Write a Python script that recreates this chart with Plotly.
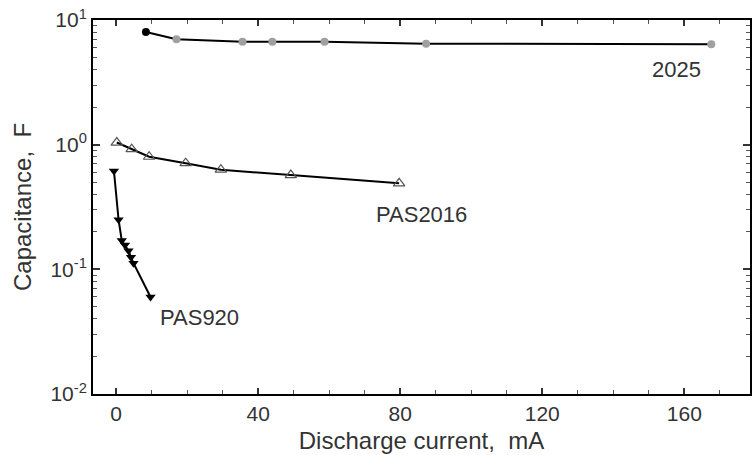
import plotly.graph_objects as go

# Data
x_2025 = [8.4, 17, 35.6, 44, 58.7, 87.3, 167.6]
y_2025 = [8.0, 7.0, 6.7, 6.7, 6.7, 6.45, 6.4]

x_2016 = [0.2, 4.4, 9.3, 19.6, 29.5, 49.2, 79.7]
y_2016 = [1.04, 0.92, 0.80, 0.71, 0.63, 0.57, 0.49]

x_920 = [-0.6, 0.7, 1.6, 2.5, 3.5, 4.2, 4.9, 9.7]
y_920 = [0.615, 0.25, 0.17, 0.157, 0.141, 0.125, 0.112, 0.060]

labels = ["2025", "PAS2016", "PAS920"]
label_x = [165.3, 72.7, 11.8]
label_logy = [0.6, -0.564, -1.39]
label_anchor = ["right", "left", "left"]

y_tickvals = [0.01, 0.1, 1, 10]
y_ticktext = ["10<sup>-2</sup>", "10<sup>-1</sup>", "10<sup>0</sup>", "10<sup>1</sup>"]
x_tickvals = [0, 40, 80, 120, 160]

minor_y = [m * 10 ** e for e in (-2, -1, 0) for m in range(2, 10)]

font = "Liberation Sans, Arial, sans-serif"
txt = "#333"

fig = go.Figure()
fig.add_trace(go.Scatter(
    x=x_2025, y=y_2025, mode="lines+markers",
    line=dict(color="black", width=2),
    marker=dict(symbol="circle", size=8,
                color=["black"] + ["#a0a0a0"] * (len(x_2025) - 1),
                line=dict(width=0)),
    showlegend=False))
fig.add_trace(go.Scatter(
    x=x_2016, y=y_2016, mode="lines+markers",
    line=dict(color="black", width=2),
    marker=dict(symbol="triangle-up-open", size=10, color="#555",
                line=dict(width=1.2)),
    showlegend=False))
fig.add_trace(go.Scatter(
    x=x_920, y=y_920, mode="lines+markers",
    line=dict(color="black", width=2),
    marker=dict(symbol="triangle-down", size=9, color="black"),
    showlegend=False))

for t, lx, ly, anc in zip(labels, label_x, label_logy, label_anchor):
    fig.add_annotation(x=lx, y=ly, yref="y", xref="x", text=t, showarrow=False,
                       xanchor=anc, yanchor="middle",
                       font=dict(family=font, size=22, color=txt))

fig.update_layout(
    width=754, height=455,
    margin=dict(l=93, r=2, t=20, b=61),
    paper_bgcolor="white", plot_bgcolor="white",
    font=dict(family=font, size=21, color=txt),
)
fig.update_xaxes(
    range=[-6.5, 178.5], tickvals=x_tickvals, ticks="inside", ticklen=6,
    tickwidth=1.5, tickcolor="#333",
    showline=True, linecolor="black", linewidth=2, mirror="allticks",
    showgrid=False, zeroline=False,
    tickfont=dict(family=font, size=21, color=txt),
    title=dict(text="Discharge current,&#160; mA", standoff=8,
               font=dict(family=font, size=24, color=txt)),
    minor=dict(dtick=10, tick0=0, ticks="inside", ticklen=4, tickcolor="#555", tickwidth=1),
)
fig.update_yaxes(
    type="log", range=[-2, 1], tickvals=y_tickvals, ticktext=y_ticktext,
    ticks="inside", ticklen=7, tickwidth=1.5, tickcolor="#333",
    showline=True, linecolor="black", linewidth=2, mirror="allticks",
    showgrid=False, zeroline=False,
    tickfont=dict(family=font, size=21, color=txt),
    title=dict(text="Capacitance,&#160; F", standoff=12,
               font=dict(family=font, size=24, color=txt)),
    minor=dict(tickvals=minor_y, ticks="inside", ticklen=4, tickcolor="#555", tickwidth=1),
)
fig.write_html("out.html")
